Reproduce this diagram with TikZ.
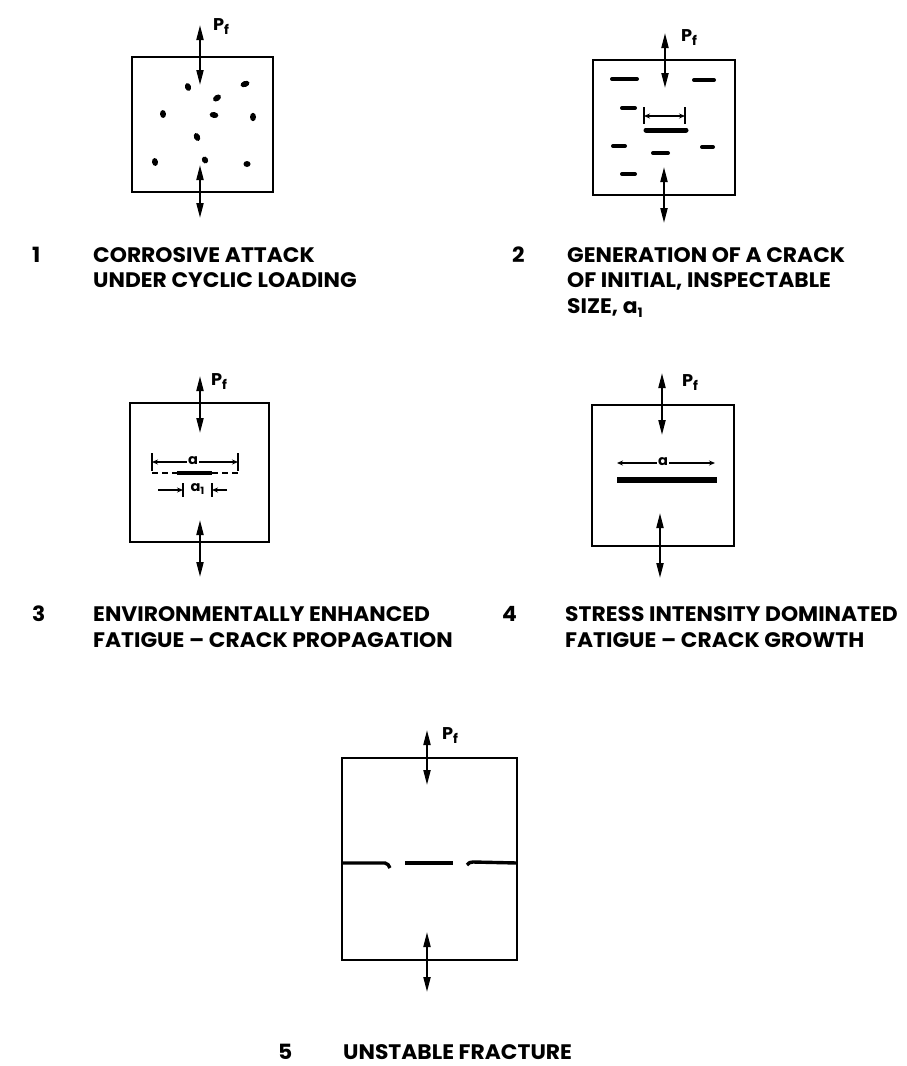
\documentclass[tikz,border=0pt]{standalone}
\usepackage{fontspec}
\setmainfont{Poppins}[FakeStretch=1.04]
\usetikzlibrary{arrows.meta}
\newcommand{\Pf}{P\raisebox{-4pt}{\fontsize{13}{13}\selectfont f}}
\newcommand{\aone}{a\raisebox{-3pt}{\fontsize{10}{10}\selectfont 1}}
\newcommand{\aonebig}{a\raisebox{-4pt}{\fontsize{13}{13}\selectfont 1}}

\begin{document}
\begin{tikzpicture}[x=1pt,y=-1pt,
lab/.style={font=\fontsize{21}{25.5}\selectfont\bfseries,inner sep=0pt,align=left,anchor=base west},
pf/.style={font=\fontsize{17}{17}\selectfont\bfseries,inner sep=0pt},
dimlab/.style={font=\fontsize{14}{14}\selectfont\bfseries,inner sep=1pt,fill=white},
spec/.style={line width=2.8pt},
load/.style={{Triangle[length=15pt,width=7pt]}-{Triangle[length=15pt,width=7pt]},line width=2pt},
dim/.style={{Stealth[length=6pt,width=5pt]}-{Stealth[length=6pt,width=5pt]},line width=1.3pt},
tick/.style={line width=1.6pt},
flaw/.style={line width=4pt,line cap=round},
crack/.style={line width=5pt,line cap=round}]
\useasboundingbox (0,0) rectangle (907,1066);

% 1 corrosive attack
\draw[spec] (132,57) rectangle (273,192);
\coordinate (t1a) at (200,25); \coordinate (t1b) at (200,85);
\coordinate (b1a) at (200,165); \coordinate (b1b) at (200,218);
\draw[load] (t1a)--(t1b); \draw[load] (b1a)--(b1b);
\node[pf] (pf1) at (221,27) {\Pf};
\foreach \x/\y/\r/\a in {188/87/4/-70,245/84/4.6/20,217/98/4.4/35,163/114/4/-85,214/115/4.4/-10,
  253/117/4.2/-90,197/137/4.2/-65,155/162/4/-80,205/160/3.6/-60,247/164/3.5/0}
  \fill[rotate around={\a:(\x,\y)}] (\x,\y) ellipse [x radius=\r, y radius=3];

% 2 generation of a crack
\draw[spec] (593,60) rectangle (735,195);
\coordinate (t2a) at (665,33); \coordinate (t2b) at (665,88);
\coordinate (b2a) at (664,167); \coordinate (b2b) at (664,223);
\draw[load] (t2a)--(t2b); \draw[load] (b2a)--(b2b);
\node[pf] (pf2) at (689,38) {\Pf};
\foreach \xa/\xb/\y in {612/637/79,694/714/80,622/635/108,613/625/146,702/713/147,653/668/153,622/635/174}
  \draw[flaw] (\xa,\y)--(\xb,\y);
\coordinate (d2l) at (644,116); \coordinate (d2r) at (685,116);
\draw[tick] (644,107)--(644,124); \draw[tick] (685,107)--(685,124);
\draw[dim] (d2l)--(d2r);
\draw[crack] (646,130)--(686,130);
\node[lab] (n1) at (32,262) {1};
\node[lab] (l1) at (93,287.5) {CORROSIVE ATTACK\\UNDER CYCLIC LOADING};
\node[lab] (n2) at (512,262) {2};
\node[lab] (l2) at (567,313) {GENERATION OF A CRACK\\OF INITIAL, INSPECTABLE\\SIZE, \aonebig};

% 3 environmentally enhanced propagation
\draw[spec] (130,403) rectangle (269,542);
\coordinate (t3a) at (200,376); \coordinate (t3b) at (200,433);
\coordinate (b3a) at (200,520); \coordinate (b3b) at (200,577);
\draw[load] (t3a)--(t3b); \draw[load] (b3a)--(b3b);
\node[pf] (pf3) at (219,382) {\Pf};
\draw[tick] (152,453)--(152,471); \draw[tick] (238,453)--(238,471);
\coordinate (d3l) at (152,462); \coordinate (d3r) at (238,462);
\draw[dim] (d3l)--(d3r);
\node[dimlab] (a3) at (193,461) {a};
\draw[line width=1.8pt,dash pattern=on 6pt off 4pt] (152,473)--(241,473);
\draw[line width=4.5pt] (177,473)--(212,473);
\draw[tick] (183,483)--(183,497); \draw[tick] (212,483)--(212,497);
\coordinate (e3l) at (158,490); \coordinate (e3r) at (227,490);
\draw[-{Stealth[length=6pt,width=5pt]},line width=1.3pt] (e3l)--(183,490);
\draw[-{Stealth[length=6pt,width=5pt]},line width=1.3pt] (e3r)--(212,490);
\node[dimlab,fill=none] (a31) at (197.5,489) {\aone};

% 4 stress intensity dominated growth
\draw[spec] (592,405) rectangle (734,546);
\coordinate (t4a) at (662,373); \coordinate (t4b) at (662,435);
\coordinate (b4a) at (660,513); \coordinate (b4b) at (660,578);
\draw[load] (t4a)--(t4b); \draw[load] (b4a)--(b4b);
\node[pf] (pf4) at (690,383) {\Pf};
\coordinate (d4l) at (617,463); \coordinate (d4r) at (715,463);
\draw[dim] (d4l)--(d4r);
\node[dimlab] (a4) at (663,462) {a};
\draw[line width=6pt] (617,480)--(717,480);
\node[lab] (n3) at (32,621) {3};
\node[lab] (l3) at (93,647) {ENVIRONMENTALLY ENHANCED\\FATIGUE -- CRACK PROPAGATION};
\node[lab] (n4) at (502,621) {4};
\node[lab] (l4) at (565,647) {STRESS INTENSITY DOMINATED\\FATIGUE -- CRACK GROWTH};

% 5 unstable fracture
\draw[spec] (342,758) rectangle (517,960);
\coordinate (t5a) at (427,730); \coordinate (t5b) at (427,785);
\coordinate (b5a) at (427,932); \coordinate (b5b) at (427,992);
\draw[load] (t5a)--(t5b); \draw[load] (b5a)--(b5b);
\node[pf] (pf5) at (450,736) {\Pf};
\draw[line width=3.4pt] (342,863)--(385,863) to[out=0,in=120] (390,868);
\draw[line width=3.4pt] (405,863)--(453,863);
\draw[line width=3.4pt] (467,865) to[out=60,in=180] (473,862)--(517,863);
\node[lab] (n5) at (278,1059) {5};
\node[lab] (l5) at (343,1059) {UNSTABLE FRACTURE};
\end{tikzpicture}
\end{document}
